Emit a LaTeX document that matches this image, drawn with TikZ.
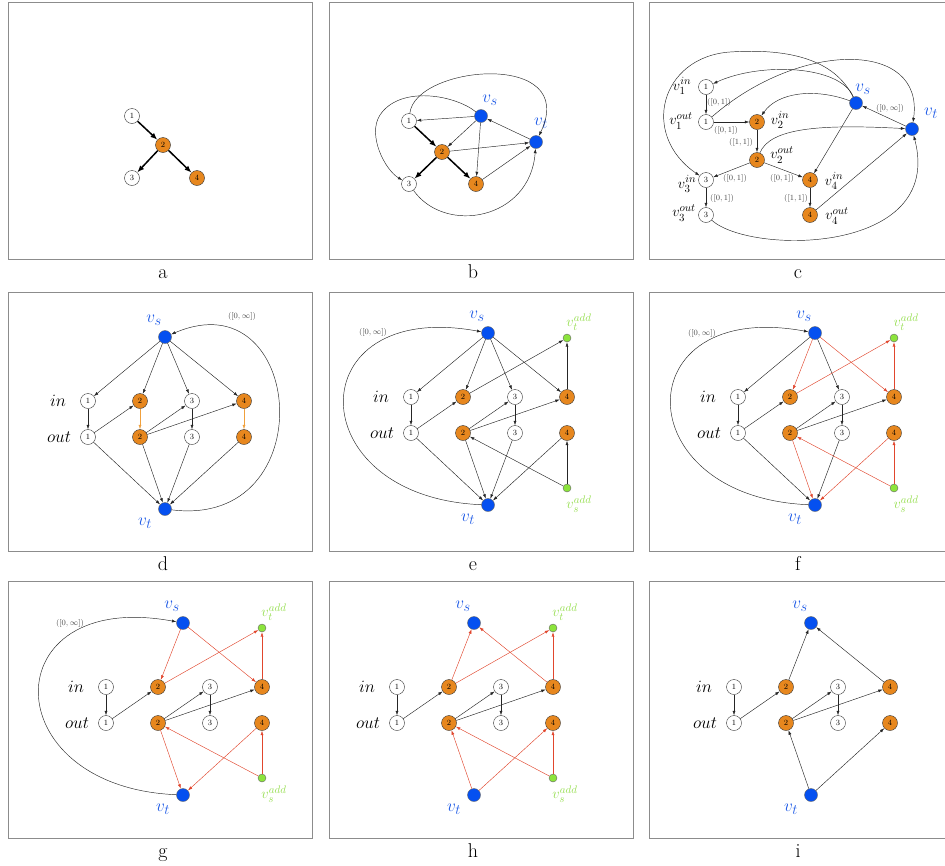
\documentclass[tikz,border=0pt]{standalone}
\usepackage{amsmath}
\usetikzlibrary{arrows.meta}
\definecolor{nodeorange}{RGB}{231,135,30}
\definecolor{nodeblue}{RGB}{5,80,240}
\definecolor{txtblue}{RGB}{30,90,230}
\definecolor{nodegreen}{RGB}{140,228,60}
\definecolor{txtgreen}{RGB}{150,222,80}
\definecolor{edgered}{RGB}{225,70,45}
\definecolor{edgeorange}{RGB}{240,160,60}
\definecolor{framegray}{RGB}{140,140,140}
\definecolor{capgray}{RGB}{70,70,70}

\begin{document}
\begin{tikzpicture}[x=1pt,y=-1pt,
    frm/.style={draw=framegray, line width=0.8pt},
    captxt/.style={font=\fontsize{20}{20}\selectfont, anchor=base},
    wn/.style={circle, draw=black!80, line width=0.4pt, fill=white, minimum size=15pt, inner sep=0pt, font=\fontsize{8}{8}\selectfont},
    bn/.style={circle, draw=black!60, line width=0.4pt, fill=nodeblue, minimum size=13pt, inner sep=0pt},
    gn/.style={circle, draw=black!60, line width=0.4pt, fill=nodegreen, minimum size=8pt, inner sep=0pt},
    ar/.style={-{Latex[length=4.5pt,width=3pt]}, line width=0.45pt, draw=black!85},
    rd/.style={ar, draw=edgered},
    og/.style={ar, draw=edgeorange},
    tk/.style={-{Latex[length=7pt,width=5.5pt]}, line width=1.5pt},
    vlab/.style={text=txtblue, font=\fontsize{19}{19}\selectfont, inner sep=0pt},
    alab/.style={text=txtgreen, font=\fontsize{15}{15}\selectfont, inner sep=0pt},
    rowlab/.style={font=\fontsize{18}{18}\selectfont, inner sep=0pt},
    elab/.style={text=capgray, font=\fontsize{8.5}{8.5}\selectfont, inner sep=0pt},
    clab/.style={font=\fontsize{15}{15}\selectfont, inner sep=0pt},
  ]
\useasboundingbox (0,0) rectangle (945,865);

% frames and captions
\foreach \x/\w in {8/304, 329/304, 649/310} {
  \foreach \y/\h in {2/257, 292/259, 581/257} {
    \draw[frm] (\x,\y) rectangle +(\w,\h);
  }
}
\foreach \t/\x/\y in {a/163/278, b/473/278, c/798/278, d/163/570, e/473/570, f/798/570, g/163/857, h/473/857, i/798/857}
  \node[captxt] (cap\t) at (\x,\y) {\t};

% panel a
\node[wn] (a1) at (132,116) {1};
\node[wn, fill=nodeorange] (a2) at (163,145) {2};
\node[wn] (a3) at (132,178) {3};
\node[wn, fill=nodeorange] (a4) at (197,178) {4};
\draw[tk] (a1) -- (a2);
\draw[tk] (a2) -- (a3);
\draw[tk] (a2) -- (a4);

% panel b
\node[wn] (b1) at (409,121) {1};
\node[wn, fill=nodeorange] (b2) at (442,152) {2};
\node[wn] (b3) at (409,184) {3};
\node[wn, fill=nodeorange] (b4) at (476,184) {4};
\node[bn] (bvs) at (481,116) {};
\node[bn] (bvt) at (536,142) {};
\node[vlab] (bvsl) at (490,100) {$v_s$};
\node[vlab] (bvtl) at (541,123) {$v_t$};
\draw[tk] (b1) -- (b2);
\draw[tk] (b2) -- (b3);
\draw[tk] (b2) -- (b4);
\draw[ar] (bvs) -- (b1);
\draw[ar] (bvs) -- (b2);
\draw[ar] (bvs) -- (b4);
\draw[ar] (bvt) -- (bvs);
\draw[ar] (b2) -- (bvt);
\draw[ar] (b4) -- (bvt);
\draw[ar] (b1) .. controls (415,65) and (580,50) .. (bvt);
\draw[ar] (bvs) .. controls (455,95) and (400,85) .. (380,115) .. controls (367,135) and (385,170) .. (b3);
\draw[ar] (b3) .. controls (445,235) and (530,220) .. (bvt);

% panel c
\node[wn] (c1i) at (706,87) {1};
\node[wn] (c1o) at (706,122) {1};
\node[wn, fill=nodeorange] (c2i) at (757,122) {2};
\node[wn, fill=nodeorange] (c2o) at (757,160) {2};
\node[wn] (c3i) at (706,180) {3};
\node[wn] (c3o) at (706,215) {3};
\node[wn, fill=nodeorange] (c4i) at (810,180) {4};
\node[wn, fill=nodeorange] (c4o) at (810,215) {4};
\node[bn] (cvs) at (856,103) {};
\node[bn] (cvt) at (912,129) {};
\node[vlab] (cvsl) at (863,89) {$v_s$};
\node[vlab] (cvtl) at (931,113) {$v_t$};
\node[clab] (c1il) at (682,86) {$v_1^{in}$};
\node[clab] (c1ol) at (681,121) {$v_1^{out}$};
\node[clab] (c2il) at (780,120) {$v_2^{in}$};
\node[clab] (c2ol) at (782,155) {$v_2^{out}$};
\node[clab] (c3il) at (687,184) {$v_3^{in}$};
\node[clab] (c3ol) at (684,213) {$v_3^{out}$};
\node[clab] (c4il) at (834,181) {$v_4^{in}$};
\node[clab] (c4ol) at (837,216) {$v_4^{out}$};
\node[elab] (ce1) at (719,102) {$([0,1])$};
\node[elab] (ce2) at (726,130) {$([0,1])$};
\node[elab] (ce3) at (741,142) {$([1,1])$};
\node[elab] (ce4) at (735,178) {$([0,1])$};
\node[elab] (ce5) at (782,178) {$([0,1])$};
\node[elab] (ce6) at (722,198) {$([0,1])$};
\node[elab] (ce7) at (796,198) {$([1,1])$};
\node[elab] (ce8) at (890,108) {$([0,\infty])$};
\draw[ar] (c1i) -- (c1o);
\draw[ar] (c1o) -- (c2i);
\draw[ar] (c2i) -- (c2o);
\draw[ar] (c2o) -- (c3i);
\draw[ar] (c2o) -- (c4i);
\draw[ar] (c3i) -- (c3o);
\draw[ar] (c4i) -- (c4o);
\draw[ar] (cvt) -- (cvs);
\draw[ar] (cvs) -- (c4i);
\draw[ar] (c4o) -- (cvt);
\draw[ar] (cvs) .. controls (815,88) and (778,92) .. (c2i);
\draw[ar] (cvs) .. controls (840,65) and (760,62) .. (c1i);
\draw[ar] (cvs) .. controls (835,60) and (790,48) .. (730,52) .. controls (660,57) and (640,135) .. (c3i);
\draw[ar] (c1o) .. controls (800,40) and (925,40) .. (cvt);
\draw[ar] (c2o) .. controls (770,128) and (820,124) .. (cvt);
\draw[ar] (c3o) .. controls (750,255) and (945,255) .. (cvt);

% panels d to i: in/out layer graph
\foreach \p/\x/\y in {d/88/401, e/411/397, f/738/397, g/106/687, h/397/687, i/734/687} {
  \begin{scope}[shift={(\x,\y)}]
    \foreach \k/\c in {1/white, 2/nodeorange, 3/white, 4/nodeorange} {
      \node[wn, fill=\c] (\p i\k) at ({52*(\k-1)},0) {\k};
      \node[wn, fill=\c] (\p o\k) at ({52*(\k-1)},36) {\k};
    }
    \node[bn] (\p vs) at (77,-64) {};
    \node[bn] (\p vt) at (77,108) {};
    \node[rowlab] (\p in) at (-30,0) {$in$};
    \node[rowlab] (\p out) at (-29,36) {$out$};
    \node[vlab] (\p vsl) at (66,-81) {$v_s$};
    \node[vlab] (\p vtl) at (57,122) {$v_t$};
  \end{scope}
}
\foreach \p/\x/\y in {e/411/397, f/738/397, g/106/687, h/397/687} {
  \begin{scope}[shift={(\x,\y)}]
    \node[gn] (\p ta) at (156,-59) {};
    \node[gn] (\p sa) at (156,91) {};
    \node[alab] (\p tal) at (168,-75) {$v_t^{add}$};
    \node[alab] (\p sal) at (168,107) {$v_s^{add}$};
  \end{scope}
}

% d
\foreach \k in {1,...,4} \draw[ar] (dvs) -- (di\k);
\foreach \k in {1,...,4} \draw[ar] (do\k) -- (dvt);
\draw[ar] (di1) -- (do1);
\draw[ar] (do1) -- (di2);
\draw[og] (di2) -- (do2);
\draw[ar] (do2) -- (di3);
\draw[ar] (do2) -- (di4);
\draw[ar] (di3) -- (do3);
\draw[og] (di4) -- (do4);
\draw[ar] (dvt) .. controls +(160,20) and +(140,-60) .. (dvs);
\node[elab] (dinf) at (242,316) {$([0,\infty])$};

% e
\foreach \k in {1,...,4} \draw[ar] (evs) -- (ei\k);
\foreach \k in {1,...,4} \draw[ar] (eo\k) -- (evt);
\draw[ar] (ei1) -- (eo1);
\draw[ar] (eo1) -- (ei2);
\draw[ar] (ei2) -- (eta);
\draw[ar] (eo2) -- (ei3);
\draw[ar] (eo2) -- (ei4);
\draw[ar] (ei3) -- (eo3);
\draw[ar] (ei4) -- (eta);
\draw[ar] (esa) -- (eo2);
\draw[ar] (esa) -- (eo4);
\draw[ar] (evt) .. controls +(-190,-8) and +(-190,-35) .. (evs);
\node[elab] (einf) at (373,332) {$([0,\infty])$};

% f
\draw[ar] (fvs) -- (fi1);
\draw[rd] (fvs) -- (fi2);
\draw[ar] (fvs) -- (fi3);
\draw[rd] (fvs) -- (fi4);
\draw[ar] (fi1) -- (fo1);
\draw[ar] (fo1) -- (fi2);
\draw[rd] (fi2) -- (fta);
\draw[ar] (fo2) -- (fi3);
\draw[ar] (fo2) -- (fi4);
\draw[ar] (fi3) -- (fo3);
\draw[rd] (fi4) -- (fta);
\draw[ar] (fo1) -- (fvt);
\draw[rd] (fo2) -- (fvt);
\draw[ar] (fo3) -- (fvt);
\draw[rd] (fo4) -- (fvt);
\draw[rd] (fsa) -- (fo2);
\draw[rd] (fsa) -- (fo4);
\draw[ar] (fvt) .. controls +(-190,-8) and +(-190,-35) .. (fvs);
\node[elab] (finf) at (702,333) {$([0,\infty])$};

% g
\draw[rd] (gvs) -- (gi2);
\draw[rd] (gvs) -- (gi4);
\draw[rd] (gi2) -- (gta);
\draw[rd] (gi4) -- (gta);
\draw[ar] (gi1) -- (go1);
\draw[ar] (go1) -- (gi2);
\draw[ar] (go2) -- (gi3);
\draw[ar] (go2) -- (gi4);
\draw[ar] (gi3) -- (go3);
\draw[rd] (go2) -- (gvt);
\draw[rd] (go4) -- (gvt);
\draw[rd] (gsa) -- (go2);
\draw[rd] (gsa) -- (go4);
\draw[ar] (gvt) .. controls +(-190,-8) and +(-190,-35) .. (gvs);
\node[elab] (ginf) at (70,623) {$([0,\infty])$};

% h
\draw[rd] (hi2) -- (hvs);
\draw[rd] (hi4) -- (hvs);
\draw[rd] (hi2) -- (hta);
\draw[rd] (hi4) -- (hta);
\draw[ar] (hi1) -- (ho1);
\draw[ar] (ho1) -- (hi2);
\draw[ar] (ho2) -- (hi3);
\draw[ar] (ho2) -- (hi4);
\draw[ar] (hi3) -- (ho3);
\draw[rd] (hvt) -- (ho2);
\draw[rd] (hvt) -- (ho4);
\draw[rd] (hsa) -- (ho2);
\draw[rd] (hsa) -- (ho4);

% i
\draw[ar] (ii2) -- (ivs);
\draw[ar] (ii4) -- (ivs);
\draw[ar] (ii1) -- (io1);
\draw[ar] (io1) -- (ii2);
\draw[ar] (io2) -- (ii3);
\draw[ar] (io2) -- (ii4);
\draw[ar] (ii3) -- (io3);
\draw[ar] (ivt) -- (io2);
\draw[ar] (ivt) -- (io4);
\end{tikzpicture}
\end{document}
